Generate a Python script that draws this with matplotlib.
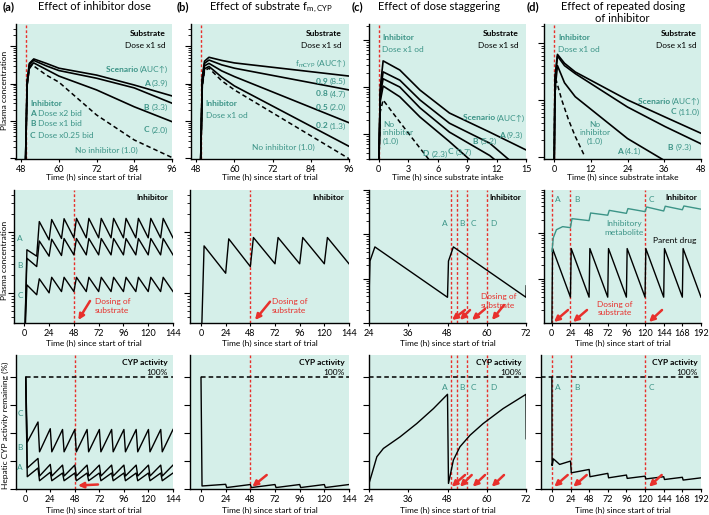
import numpy as np
import matplotlib.pyplot as plt
from matplotlib.ticker import LogLocator, NullFormatter

plt.rcParams['font.family'] = ['Lato', 'DejaVu Sans']
plt.rcParams['mathtext.fontset'] = 'custom'
plt.rcParams['mathtext.rm'] = 'Lato'
plt.rcParams['mathtext.it'] = 'Lato:italic'
plt.rcParams['mathtext.bf'] = 'Lato:bold'

W, H = 709, 515
MINT = '#d5efe9'
TEAL = '#3c9487'
RED = '#e8302c'

# ---------------- top row: substrate plasma concentration ----------------
t_top_a = [49.4, 49.9, 50.6, 52, 56, 60, 72, 84, 96]
top_a_A = [0.009, 1.2, 3.5, 4.6, 3.5, 2.6, 1.7, 0.92, 0.47]
top_a_B = [0.009, 1.0, 3.2, 4.2, 3.0, 2.25, 1.4, 0.77, 0.30]
top_a_C = [0.009, 0.9, 2.8, 3.6, 2.4, 1.6, 0.68, 0.24, 0.096]
t_top_a_none = [49.4, 49.9, 50.6, 51.5, 56, 60, 72, 84, 96]
top_a_none = [0.009, 0.9, 2.5, 3.2, 1.7, 1.1, 0.145, 0.031, 0.0105]

t_top_b = [49.4, 49.9, 50.6, 52, 56, 60, 96]
top_b_09 = [0.009, 1.5, 4.0, 5.1, 4.2, 3.6, 1.6]
top_b_08 = [0.009, 1.3, 3.5, 4.3, 3.2, 2.6, 0.68]
top_b_05 = [0.009, 1.1, 3.0, 3.5, 2.2, 1.55, 0.09]
top_b_02 = [0.009, 0.9, 2.5, 2.9, 1.5, 0.87, 0.021]
top_b_none = [0.009, 0.8, 2.2, 2.6, 1.2, 0.68, 0.0098]

t_top_c = [0, 0.15, 0.44, 2.14, 4.2, 7.2, 11.3, 15]
top_c_A = [0.02, 1.0, 3.6, 2.3, 0.86, 0.28, 0.11, 0.046]
top_c_B = [0.02, 0.8, 2.1, 1.4, 0.53, 0.17, 0.064, 0.014]
top_c_C = [0.02, 0.7, 1.5, 1.0, 0.36, 0.11, 0.035, 0.008]
top_c_D = [0.02, 0.5, 1.05, 0.62, 0.23, 0.069, 0.012, 0.003]
top_c_none = [0.02, 0.3, 0.53, 0.18, 0.05, 0.008, 0.002, 0.0005]

t_top_d = [0, 0.3, 1.1, 3.4, 6.9, 24, 36.3, 48]
top_d_C = [0.05, 2.5, 6.3, 4.4, 3.1, 1.0, 0.5, 0.26]
top_d_B = [0.05, 2.3, 5.9, 4.0, 2.9, 0.75, 0.34, 0.17]
top_d_A = [0.05, 1.5, 4.0, 2.0, 1.14, 0.21, 0.085, 0.03]
t_top_d_none = [0, 0.2, 0.7, 2.5, 4.7, 6.9, 10.1]
top_d_none = [0.05, 1.0, 2.2, 1.0, 0.45, 0.23, 0.10]

# ---------------- middle row: inhibitor plasma concentration ----------------
doses_bid = [0, 12, 24, 36, 48, 60, 72, 84, 96, 108, 120, 132]
mid_a_A_peak = [0.51, 1.48, 1.60, 1.65, 1.67, 1.67, 1.67, 1.67, 1.67, 1.67, 1.67, 1.67]
mid_a_A_trough = [0.40, 0.74, 0.78, 0.80, 0.80, 0.80, 0.80, 0.80, 0.80, 0.80, 0.80, 0.80]
mid_a_B_peak = [0.37, 0.71, 0.76, 0.78, 0.78, 0.78, 0.78, 0.78, 0.78, 0.78, 0.78, 0.78]
mid_a_B_trough = [0.27, 0.40, 0.41, 0.42, 0.42, 0.42, 0.42, 0.42, 0.42, 0.42, 0.42, 0.42]
mid_a_C_peak = [0.135, 0.17, 0.18, 0.18, 0.18, 0.18, 0.18, 0.18, 0.18, 0.18, 0.18, 0.18]
mid_a_C_trough = [0.093, 0.10, 0.105, 0.105, 0.105, 0.105, 0.105, 0.105, 0.105, 0.105, 0.105, 0.105]

doses_od = [0, 24, 48, 72, 96, 120]
mid_b_peak = [0.59, 0.77, 0.81, 0.81, 0.81, 0.81]
mid_b_trough = [0.21, 0.27, 0.30, 0.30, 0.30, 0.30]

t_mid_c = [24, 24.3, 25.8, 48, 48.3, 49.8, 72, 72.05]
mid_c = [0.038, 0.25, 0.52, 0.038, 0.25, 0.52, 0.038, 0.069]

doses_od8 = [0, 24, 48, 72, 96, 120, 144, 168]
mid_d_parent_peak = [0.46, 0.46, 0.46, 0.46, 0.46, 0.46, 0.46, 0.46]
mid_d_parent_trough = [0.039, 0.039, 0.039, 0.039, 0.039, 0.039, 0.039, 0.039]
t_mid_d_met = [0.3, 2, 6, 14, 24, 26, 48, 50, 72, 74, 96, 98, 120, 122, 144, 146, 168, 170, 192]
mid_d_met = [0.4, 0.8, 1.2, 1.4, 1.33, 2.1, 1.9, 2.8, 2.5, 3.2, 2.75, 3.5, 3.0, 3.8, 3.1, 3.95, 3.3, 4.0, 3.4]

# ---------------- bottom row: hepatic CYP activity (%) ----------------
bot_a_A_low = [11, 7.4, 7.4, 7.4, 7.4, 7.4, 7.4, 7.4, 7.4, 7.4, 7.4, 7.4]
bot_a_A_high = [18.8, 15, 14.3, 14.3, 14.3, 14.3, 14.3, 14.3, 14.3, 14.3, 14.3, 14.3]
bot_a_B_low = [18.8, 11.6, 11.6, 11.6, 11.6, 11.6, 11.6, 11.6, 11.6, 11.6, 11.6, 11.6]
bot_a_B_high = [27.4, 22, 21.4, 21.4, 21.4, 21.4, 21.4, 21.4, 21.4, 21.4, 21.4, 21.4]
bot_a_C_low = [42, 33.3, 33.3, 33.3, 33.3, 33.3, 33.3, 33.3, 33.3, 33.3, 33.3, 33.3]
bot_a_C_high = [60, 54, 53.3, 53.3, 53.3, 53.3, 53.3, 53.3, 53.3, 53.3, 53.3, 53.3]

bot_b_low = [2.7, 1.3, 1.3, 1.3, 1.3, 1.3]
bot_b_high = [4.2, 4.0, 4.0, 4.0, 4.0, 4.0]

t_bot_c = [24, 24.8, 26.4, 28.4, 33.5, 38.6, 43.7, 48, 48.3, 49.8, 51.8, 54.9, 58.9, 65, 72, 72.05]
bot_c = [5, 12.8, 28.9, 36.3, 46.7, 58.6, 72, 84.8, 5, 25.9, 37.8, 48.2, 58.6, 72, 84.8, 45]

t_bot_d = [0, 0.3, 2, 10, 24, 25, 48, 49, 72, 73, 96, 97, 120, 121, 144, 145, 168, 169, 192]
bot_d = [100, 21, 27, 22, 25, 14.5, 17.5, 11, 14, 10, 12.5, 9.5, 11.5, 9, 11, 8.5, 10.5, 8, 10]


def sawtooth(doses, peaks, troughs, rise, t_end, start):
    t, v = [doses[0]], [start]
    for i, d in enumerate(doses):
        nxt = doses[i + 1] if i + 1 < len(doses) else t_end
        t += [d + rise, nxt]
        v += [peaks[i], troughs[i]]
    return t, v


def cyp_saw(doses, lows, highs, fall, t_end):
    t, v = [doses[0]], [100]
    for i, d in enumerate(doses):
        nxt = doses[i + 1] if i + 1 < len(doses) else t_end
        t += [d + fall, nxt]
        v += [lows[i], highs[i]]
    return t, v


fig = plt.figure(figsize=(W / 100, H / 100), dpi=100)


def add_ax(x0, y0, x1, y1):
    return fig.add_axes([x0 / W, 1 - y1 / H, (x1 - x0) / W, (y1 - y0) / H])


def style(ax, xlim, xticks, ylim, log=True):
    ax.set_facecolor(MINT)
    for s in ['top', 'right']:
        ax.spines[s].set_visible(False)
    for s in ['left', 'bottom']:
        ax.spines[s].set_linewidth(1.0)
    ax.set_xlim(*xlim)
    ax.set_xticks(xticks)
    ax.tick_params(axis='x', length=2, labelsize=6.5, pad=2)
    if log:
        ax.set_yscale('log')
        ax.yaxis.set_major_locator(LogLocator(base=10, numticks=12))
        ax.yaxis.set_minor_locator(LogLocator(base=10, subs=np.arange(2, 10), numticks=12))
        ax.yaxis.set_minor_formatter(NullFormatter())
    else:
        ax.set_yticks([0, 25, 50, 75, 100])
    ax.set_ylim(*ylim)
    ax.tick_params(axis='y', which='major', length=4, width=0.8, labelleft=False)
    ax.tick_params(axis='y', which='minor', length=2.5, width=0.6)


red_kw = dict(color=RED, lw=1.0, ls=(0, (2, 1.5)), zorder=1)
sub_kw = dict(color='black', lw=1.2)
none_kw = dict(color='black', lw=1.1, ls=(0, (3, 2)))
thin_kw = dict(color='black', lw=1.0)

# ======================= TOP ROW =======================
ax = add_ax(15.5, 24, 172, 159)
style(ax, (46.2, 96), [48, 60, 72, 84, 96], (0.0096, 39.7))
ax.axvline(49.4, **red_kw)
for v in (top_a_A, top_a_B, top_a_C):
    ax.plot(t_top_a, v, **sub_kw)
ax.plot(t_top_a_none, top_a_none, **none_kw)

ax = add_ax(190.5, 24, 349, 159)
style(ax, (46.2, 96), [48, 60, 72, 84, 96], (0.0096, 39.7))
ax.axvline(49.5, **red_kw)
for v in (top_b_09, top_b_08, top_b_05, top_b_02):
    ax.plot(t_top_b, v, **sub_kw)
ax.plot(t_top_b, top_b_none, **none_kw)

ax = add_ax(369, 24, 526, 159)
style(ax, (-1, 15), [0, 3, 6, 9, 12, 15], (0.0295, 21.9))
ax.axvline(0, **red_kw)
for v in (top_c_A, top_c_B, top_c_C, top_c_D):
    ax.plot(t_top_c, v, **sub_kw)
ax.plot(t_top_c, top_c_none, **none_kw)

ax = add_ax(544, 24, 701, 159)
style(ax, (-3.3, 48), [0, 12, 24, 36, 48], (0.092, 21.5))
ax.axvline(0, **red_kw)
for v in (top_d_C, top_d_B, top_d_A):
    ax.plot(t_top_d, v, **sub_kw)
ax.plot(t_top_d_none, top_d_none, **none_kw)

# ======================= MIDDLE ROW =======================
ax = add_ax(14, 190, 173, 323)
style(ax, (-10, 144), [0, 24, 48, 72, 96, 120, 144], (0.032, 4.88))
ax.axvline(48, **red_kw)
for pk, tr in ((mid_a_A_peak, mid_a_A_trough), (mid_a_B_peak, mid_a_B_trough),
               (mid_a_C_peak, mid_a_C_trough)):
    t, v = sawtooth(doses_bid, pk, tr, 2.5, 144, 0.01)
    ax.plot(t, v, **thin_kw)

ax = add_ax(190, 190, 349, 323)
style(ax, (-10.7, 144), [0, 24, 48, 72, 96, 120, 144], (0.032, 4.88))
ax.axvline(48, **red_kw)
t, v = sawtooth(doses_od, mid_b_peak, mid_b_trough, 3, 144, 0.01)
ax.plot(t, v, **thin_kw)

ax = add_ax(369, 190, 526, 323)
style(ax, (24, 72), [24, 36, 48, 60, 72], (0.01, 10))
for x in (49, 51, 54, 60):
    ax.axvline(x, **red_kw)
ax.plot(t_mid_c, mid_c, **thin_kw)

ax = add_ax(544, 190, 701, 323)
style(ax, (-10, 192), [0, 24, 48, 72, 96, 120, 144, 168, 192], (0.0105, 9.0))
for x in (0, 24, 120):
    ax.axvline(x, **red_kw)
t, v = sawtooth(doses_od8, mid_d_parent_peak, mid_d_parent_trough, 1, 192, 0.005)
ax.plot(t, v, **thin_kw)
ax.plot(t_mid_d_met, mid_d_met, color=TEAL, lw=1.0)

# ======================= BOTTOM ROW =======================
ax = add_ax(15.5, 355, 173, 489)
style(ax, (-10, 144), [0, 24, 48, 72, 96, 120, 144], (0, 120), log=False)
ax.axvline(48, **red_kw)
ax.plot([0, 144], [100, 100], **none_kw)
for lo, hi in ((bot_a_A_low, bot_a_A_high), (bot_a_B_low, bot_a_B_high),
               (bot_a_C_low, bot_a_C_high)):
    t, v = cyp_saw(doses_bid, lo, hi, 1.5, 144)
    ax.plot(t, v, **thin_kw)

ax = add_ax(190, 355, 349, 489)
style(ax, (-10.7, 144), [0, 24, 48, 72, 96, 120, 144], (0, 120), log=False)
ax.axvline(48, **red_kw)
ax.plot([0, 144], [100, 100], **none_kw)
t, v = cyp_saw(doses_od, bot_b_low, bot_b_high, 1, 144)
ax.plot(t, v, **thin_kw)

ax = add_ax(369, 355, 526, 489)
style(ax, (24, 72), [24, 36, 48, 60, 72], (0, 120), log=False)
for x in (49, 51, 54, 60):
    ax.axvline(x, **red_kw)
ax.axhline(100, **none_kw)
ax.plot(t_bot_c, bot_c, **thin_kw)

ax = add_ax(541, 355, 701, 489)
style(ax, (-14, 192), [0, 24, 48, 72, 96, 120, 144, 168, 192], (0, 120), log=False)
for x in (0, 24, 120):
    ax.axvline(x, **red_kw)
ax.axhline(100, **none_kw)
ax.plot(t_bot_d, bot_d, **thin_kw)

# overlay axes on top of everything for text and arrows
ov = fig.add_axes([0, 0, 1, 1])
ov.set_axis_off()
ov.set_zorder(10)


def ftext(x, y, s, **kw):
    kw.setdefault('va', 'center')
    kw.setdefault('size', 6)
    return ov.text(x / W, 1 - y / H, s, transform=fig.transFigure, **kw)


def pair(x, y, bold, normal, ha='right', color=TEAL, size=6):
    # bold part followed by normal part, anchored right or left
    if ha == 'right':
        t2 = ftext(x, y, normal, ha='right', color=color, size=size)
        ov.annotate(bold, xy=(0, 1 - y / H), xycoords=(t2, 'figure fraction'),
                    ha='right', va='center', weight='bold', color=color, size=size,
                    annotation_clip=False)
    else:
        t1 = ftext(x, y, bold, ha='left', color=color, size=size, weight='bold')
        ov.annotate(normal, xy=(1, 1 - y / H), xycoords=(t1, 'figure fraction'),
                    ha='left', va='center', color=color, size=size, annotation_clip=False)


def arrow(tail, head):
    ov.annotate('', xy=(head[0], H - head[1]), xycoords='figure pixels',
                xytext=(tail[0], H - tail[1]), textcoords='figure pixels',
                arrowprops=dict(arrowstyle='-|>', color=RED, lw=1.8, mutation_scale=8,
                                shrinkA=0, shrinkB=0), annotation_clip=False)


# ======================= TEXT =======================
T = 8
ftext(3, 7, '(a)', weight='bold', size=T, ha='left')
ftext(94, 7, 'Effect of inhibitor dose', size=T, ha='center')
ftext(177, 7, '(b)', weight='bold', size=T, ha='left')
ftext(271, 7, r'Effect of substrate f$_{\mathrm{m,CYP}}$', size=T, ha='center')
ftext(352, 7, '(c)', weight='bold', size=T, ha='left')
ftext(439, 7, 'Effect of dose staggering', size=T, ha='center')
ftext(527, 7, '(d)', weight='bold', size=T, ha='left')
ftext(623, 6, 'Effect of repeated dosing', size=T, ha='center')
ftext(622, 18.5, 'of inhibitor', size=T, ha='center')

ftext(5, 90, 'Plasma concentration', rotation=90, ha='center')
ftext(5, 260, 'Plasma concentration', rotation=90, ha='center')
ftext(5, 425, 'Hepatic CYP activity remaining (%)', rotation=90, ha='center')

for xc in (94, 270):
    ftext(xc, 177.5, 'Time (h) since start of trial', ha='center')
for xc in (447.5, 622.5):
    ftext(xc, 177.5, 'Time (h) since substrate intake', ha='center')
for xc in (94, 270, 447.5, 622.5):
    ftext(xc, 343.5, 'Time (h) since start of trial', ha='center')
    ftext(xc, 510, 'Time (h) since start of trial', ha='center')

# substrate headers
for xr in (166, 341.7, 519, 697):
    ftext(xr, 33, 'Substrate', ha='right', weight='bold')
    ftext(xr, 45, 'Dose x1 sd', ha='right')

# (a) top
pair(168, 69, 'Scenario ', '(AUC\u2191)')
pair(168, 83, 'A ', '(3.9)')
pair(168, 107, 'B ', '(3.3)')
pair(168, 130, 'C ', '(2.0)')
ftext(138, 150, 'No inhibitor (1.0)', ha='right', color=TEAL)
ftext(30, 104, 'Inhibitor', ha='left', weight='bold', color=TEAL)
pair(30, 114, 'A', ' Dose x2 bid', ha='left')
pair(30, 124, 'B', ' Dose x1 bid', ha='left')
pair(30, 135, 'C', ' Dose x0.25 bid', ha='left')

# (b) top
ftext(346, 63, r'f$_{\mathrm{mCYP}}$ (AUC' + '\u2191)', ha='right', color=TEAL)
pair(346, 81, '0.9 ', '(8.5)')
pair(346, 94, '0.8 ', '(4.7)')
pair(346, 107, '0.5 ', '(2.0)')
pair(346, 126, '0.2 ', '(1.3)')
ftext(315, 147, 'No inhibitor (1.0)', ha='right', color=TEAL)
ftext(205.5, 104, 'Inhibitor', ha='left', weight='bold', color=TEAL)
ftext(205.5, 116, 'Dose x1 od', ha='left', color=TEAL)

# (c) top
ftext(382, 38, 'Inhibitor', ha='left', weight='bold', color=TEAL)
ftext(382, 49, 'Dose x1 od', ha='left', color=TEAL)
pair(525, 118, 'Scenario ', '(AUC\u2191)')
pair(523, 135, 'A ', '(9.3)')
pair(473, 141, 'B ', '(5.2)', ha='left')
pair(448, 152, 'C ', '(3.7)', ha='left')
pair(423, 154, 'D ', '(2.3)', ha='left')
ftext(383, 133, 'No\ninhibitor\n(1.0)', ha='left', color=TEAL, linespacing=1.25)

# (d) top
ftext(558, 38, 'Inhibitor', ha='left', weight='bold', color=TEAL)
ftext(558, 49, 'Dose x1 od', ha='left', color=TEAL)
pair(700, 101, 'Scenario ', '(AUC\u2191)')
pair(700, 112, 'C ', '(11.0)')
pair(692, 147, 'B ', '(9.3)')
pair(617, 151, 'A ', '(4.1)', ha='left')
ftext(595, 133, 'No\ninhibitor\n(1.0)', ha='center', color=TEAL, linespacing=1.25)

# middle row
for xr in (168, 344, 521.7, 697.7):
    ftext(xr, 198, 'Inhibitor', ha='right', weight='bold')
ftext(20, 238, 'A', ha='center', color=TEAL)
ftext(20, 265, 'B', ha='center', color=TEAL)
ftext(20, 296, 'C', ha='center', color=TEAL)
ftext(95, 306, 'Dosing of\nsubstrate', ha='left', color=RED, linespacing=1.2)
ftext(272, 306, 'Dosing of\nsubstrate', ha='left', color=RED, linespacing=1.2)
ftext(481, 301, 'Dosing of\nsubstrate', ha='left', color=RED, linespacing=1.2)
ftext(615, 308.5, 'Dosing of\nsubstrate', ha='center', color=RED, linespacing=1.2)
for xc, s in ((445, 'A'), (462, 'B'), (473, 'C'), (493, 'D')):
    ftext(xc, 223, s, ha='center', color=TEAL)
    ftext(xc, 388, s, ha='center', color=TEAL)
for xc, s in ((558, 'A'), (577, 'B'), (651, 'C')):
    ftext(xc, 199, s, ha='center', color=TEAL)
    ftext(xc, 388, s, ha='center', color=TEAL)
ftext(624, 228, 'Inhibitory\nmetabolite', ha='center', color=TEAL, linespacing=1.2)
ftext(675, 241, 'Parent drug', ha='center')

# bottom row
for xr in (168, 345, 521.7, 697.7):
    ftext(xr, 363, 'CYP activity', ha='right', weight='bold')
    ftext(xr, 372.5, '100%', ha='right')
ftext(20, 413, 'C', ha='center', color=TEAL)
ftext(20, 448, 'B', ha='center', color=TEAL)
ftext(20, 467, 'A', ha='center', color=TEAL)

# red arrows
arrow((90, 301), (78.3, 320))
arrow((270, 301.7), (255, 320))
for tl, hd in (((465, 310), (452, 320)), ((470, 310), (460, 320)),
               ((485, 309), (472, 320)), ((504, 305), (492, 320))):
    arrow(tl, hd)
for tl, hd in (((568, 310), (554, 322)), ((587, 310), (573, 322)), ((662, 310), (649, 322))):
    arrow(tl, hd)
arrow((98, 484.5), (78, 485.5))
arrow((266.7, 475), (252.3, 486.7))
for tl, hd in (((465, 475), (451.7, 486.7)), ((471.7, 475), (460, 486.7)),
               ((485, 475), (472.7, 486.7)), ((504, 475), (491.7, 486.7))):
    arrow(tl, hd)
for tl, hd in (((567.7, 475), (554.3, 486.7)), ((586.7, 475), (573.3, 486.7)),
               ((661.7, 475), (649, 486.7))):
    arrow(tl, hd)

fig.savefig('out.png', dpi=100)
